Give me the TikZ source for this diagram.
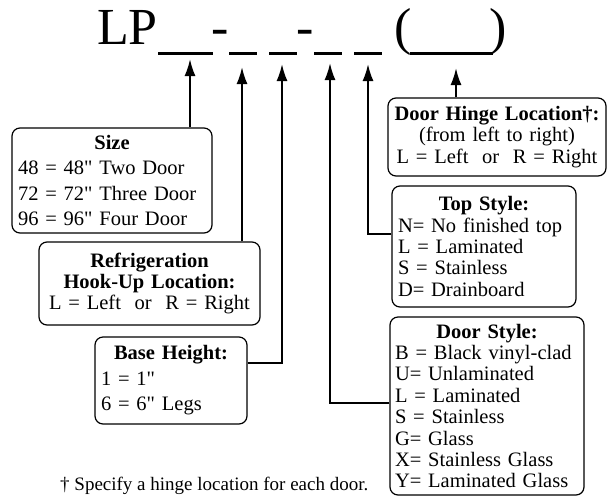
\documentclass[tikz,border=0pt]{standalone}
\usepackage{fontspec}
\setmainfont{Liberation Serif}[Ligatures=TeXOff]
\usepackage{tikz}
\usetikzlibrary{arrows.meta, positioning, calc}
\definecolor{mydark}{RGB}{0,0,0}
\newcommand{\hdr}[1]{\makebox[\hsize][c]{\bfseries #1}}
\tikzset{
  infobox/.style={rectangle, draw=mydark, fill=white, align=left,
    rounded corners=8pt, line width=1.2pt, inner xsep=6pt, inner ysep=3pt,
    font=\fontsize{20.5pt}{21.4pt}\selectfont},
  loosebox/.style={infobox, font=\fontsize{20.5pt}{25.5pt}\selectfont},
  centrebox/.style={infobox, align=center},
  titletext/.style={inner sep=0pt, anchor=base,
    font=\fontsize{52pt}{52pt}\selectfont},
  field/.style={line width=3pt, color=mydark},
  arrow/.style={-{Latex[length=17pt,width=11pt]}, line width=2pt, color=mydark}
}
\begin{document}
\begin{tikzpicture}[x=1pt, y=-1pt]
  \useasboundingbox (0,0) rectangle (615,496);
  % part number
  \node[titletext, anchor=base west] (lp) at (97,44) {LP};
  \node[titletext] (dashA) at (220,44) {-};
  \node[titletext] (dashB) at (305,44) {-};
  \node[titletext] (lpar) at (403,44) {(};
  \node[titletext] (rpar) at (498,44) {)};
  \draw[field] (158,53) -- (213,53);
  \draw[field] (229,53) -- (257,53);
  \draw[field] (269,53) -- (297,53);
  \draw[field] (314,53) -- (342,53);
  \draw[field] (354,53) -- (382,53);
  \draw[field] (410,53) -- (493,53);
  \coordinate (f1) at (190,59);
  \coordinate (f2) at (242,67);
  \coordinate (f3) at (282,64);
  \coordinate (f4) at (330,63);
  \coordinate (f5) at (368,64);
  \coordinate (f6) at (456,68);
  % boxes
  \node[loosebox, text width=188pt, minimum height=105pt] (size) at (112,180.5)
    {\hdr{Size}\\48 = 48" Two Door\\72 = 72" Three Door\\96 = 96" Four Door};
  \node[centrebox, text width=209pt, minimum height=83pt] (refrig) at (149.5,283.5)
    {\textbf{Refrigeration}\\\textbf{Hook-Up Location:}\\L = Left\ \ or\ \ R = Right};
  \node[loosebox, text width=140pt, minimum height=87pt] (base) at (171,380.5)
    {\hdr{Base Height:}\\1 = 1"\\6 = 6" Legs};
  \node[centrebox, inner xsep=2pt, text width=214pt, minimum height=78pt] (hinge) at (497,137)
    {\hdr{Door Hinge Location†:}\\(from left to right)\\L = Left\ \ or\ \ R = Right};
  \node[infobox, text width=172pt, minimum height=121pt] (topst) at (484,246.5)
    {\hdr{Top Style:}\\N= No finished top\\L = Laminated\\S = Stainless\\D= Drainboard};
  \node[infobox, inner xsep=5pt, text width=184pt, minimum height=178pt] (door) at (487,406)
    {\hdr{Door Style:}\\B = Black vinyl-clad\\U= Unlaminated\\L = Laminated\\S = Stainless\\G= Glass\\X= Stainless Glass\\Y= Laminated Glass};
  % connectors
  \coordinate (j3) at (282,363);
  \coordinate (j4) at (330,403);
  \coordinate (j5) at (368,234);
  \draw[arrow] (size.north -| f1) -- (f1);
  \draw[arrow] (refrig.north -| f2) -- (f2);
  \draw[arrow] (base.east |- j3) -- (j3) -- (f3);
  \draw[arrow] (door.west |- j4) -- (j4) -- (f4);
  \draw[arrow] (topst.west |- j5) -- (j5) -- (f5);
  \draw[arrow] (hinge.north -| f6) -- (f6);
  % footnote
  \node[inner sep=0pt, anchor=base west, font=\fontsize{19pt}{19pt}\selectfont]
    (note) at (60,490) {† Specify a hinge location for each door.};
\end{tikzpicture}
\end{document}
